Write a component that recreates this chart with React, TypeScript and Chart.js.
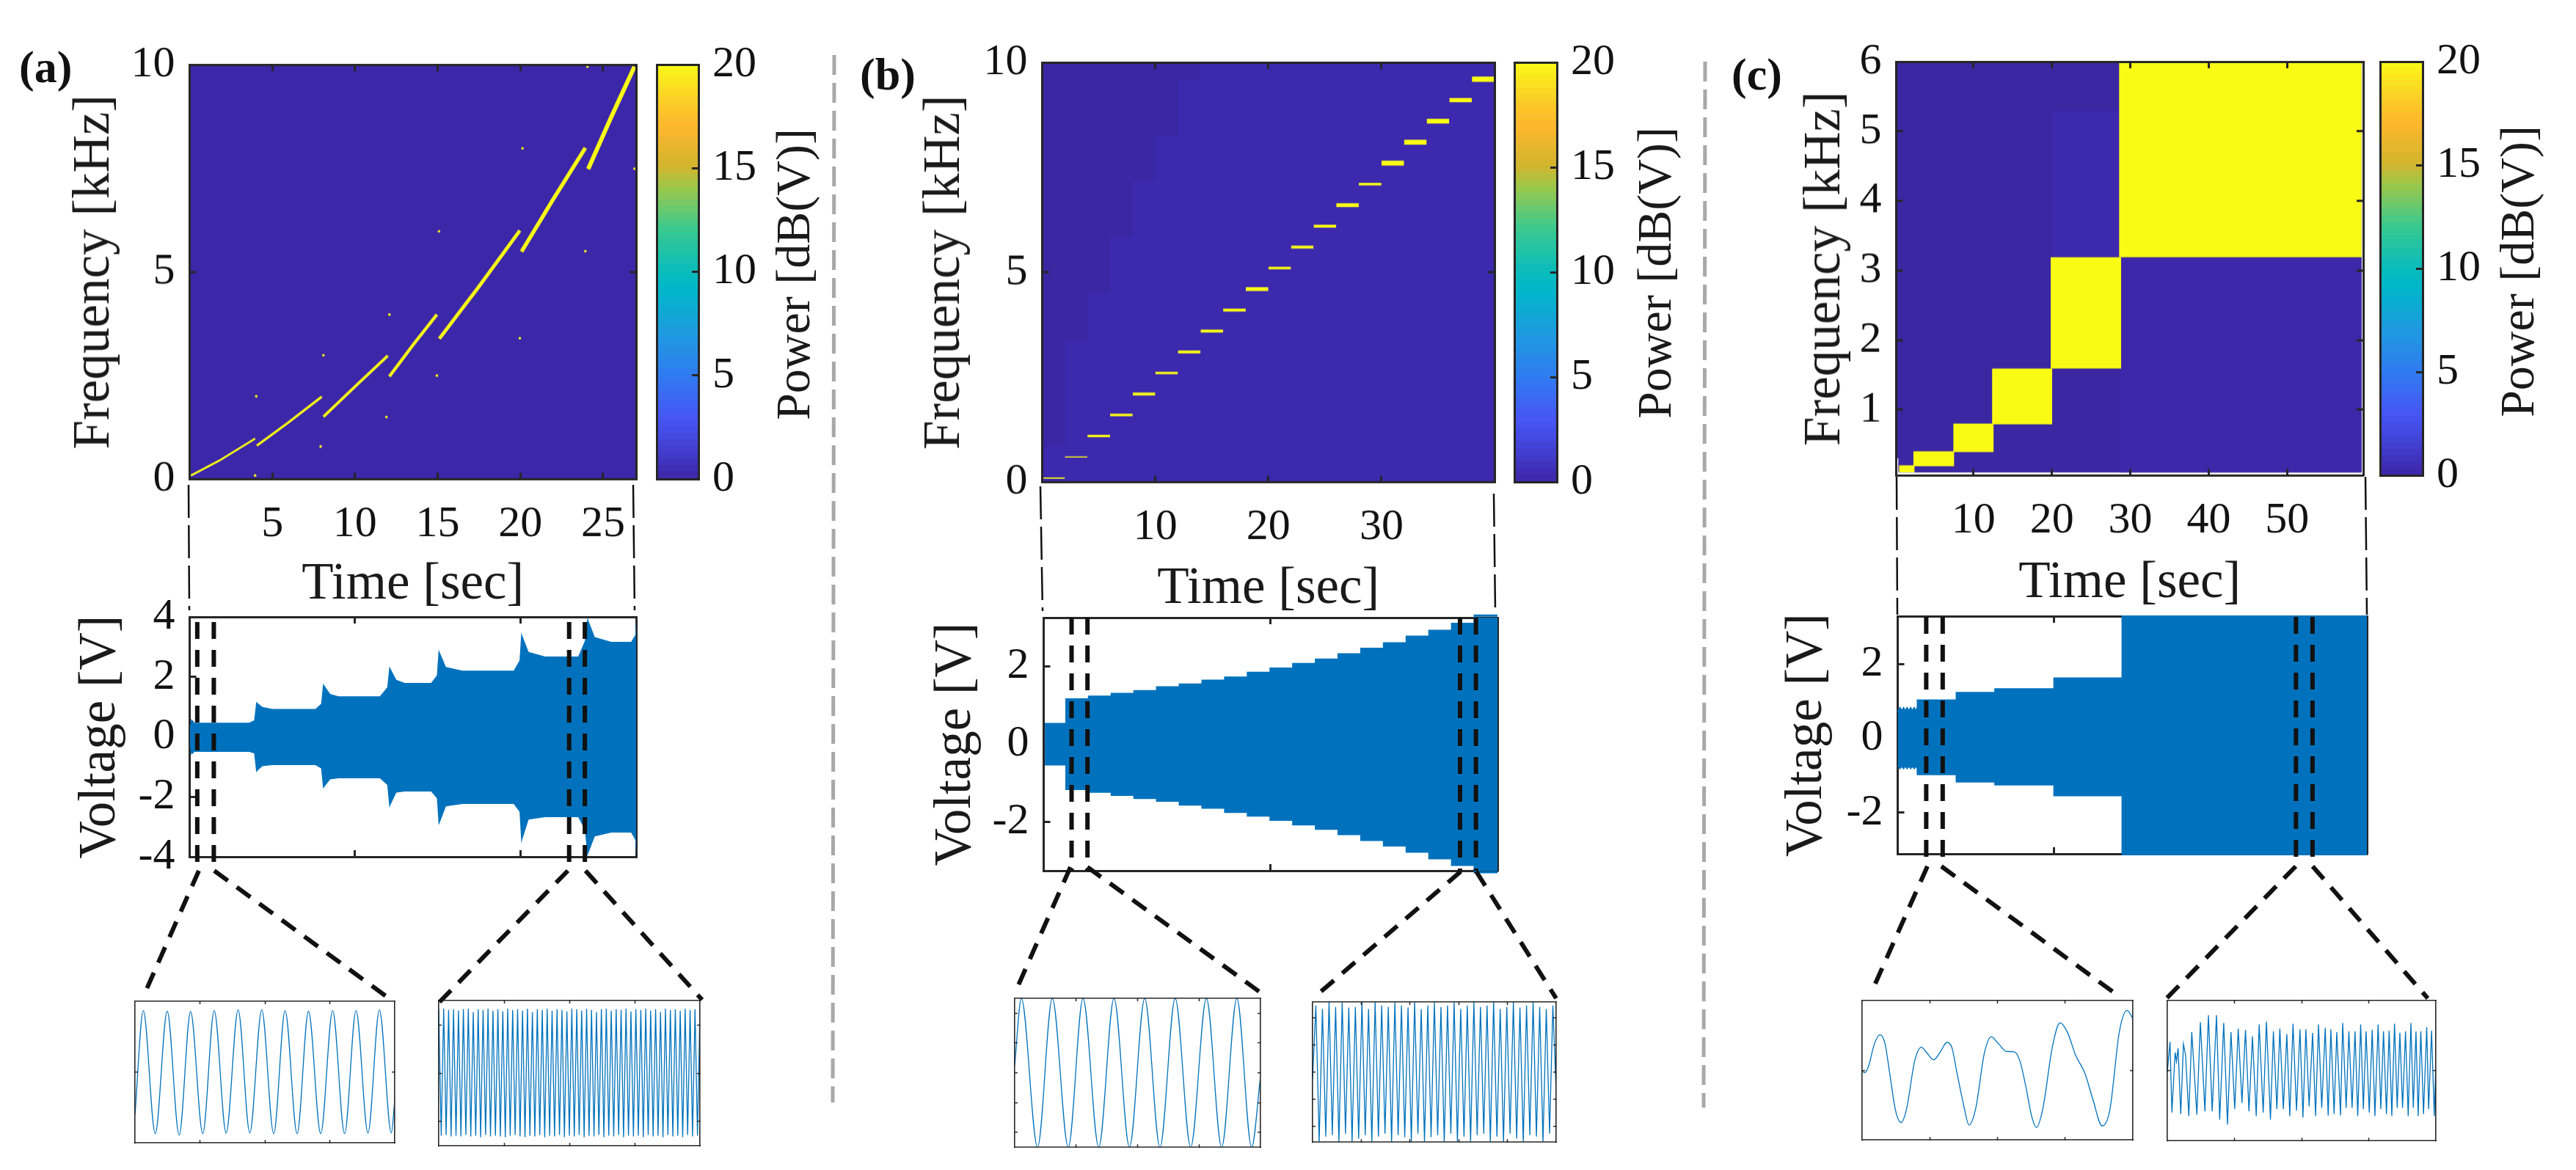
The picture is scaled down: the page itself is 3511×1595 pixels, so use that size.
import React, { useEffect, useRef } from "react";
import { Chart, registerables } from "chart.js";

Chart.register(...registerables);

// ---------- data ----------
// (a) spectrogram: chirp segments, time [s] and frequency [kHz]
const A_SEG_T = [[0.07, 1.8, 3.96], [4.06, 5.94, 7.99], [8.09, 10.07, 11.98], [12.08, 13.53, 14.95], [15.1, 17.5, 19.97], [20.07, 21.95, 23.93], [24.1, 25.5, 26.9]];
const A_SEG_F = [[0.09, 0.45, 0.98], [0.81, 1.36, 1.99], [1.51, 2.26, 2.98], [2.48, 3.25, 3.97], [3.39, 4.65, 6.0], [5.49, 6.73, 7.99], [7.48, 8.74, 9.95]];
const A_SPECK_T = [3.96, 7.92, 4.03, 8.09, 12.08, 11.9, 14.95, 15.08, 19.97, 20.13, 23.93, 26.9, 24.06];
const A_SPECK_F = [0.09, 0.79, 2.0, 2.99, 3.97, 1.5, 2.5, 5.98, 3.4, 7.98, 5.5, 7.49, 9.95];
const A_ENV_T = [0, 0.1, 0.3, 3.6, 3.9, 4.03, 4.06, 4.4, 5, 7.6, 7.95, 8.07, 8.1, 8.5, 9, 11.5, 11.95, 12.08, 12.12, 12.5, 13, 14.6, 14.95, 15.06, 15.1, 15.5, 16.5, 19.6, 19.95, 20.06, 20.1, 20.5, 21.5, 23.5, 23.9, 24.06, 24.1, 24.5, 25.5, 26.7, 26.95, 27];
const A_ENV_UP = [0.3, 0.6, 0.47, 0.47, 0.55, 1.18, 1.15, 1.0, 0.93, 0.93, 1.1, 1.78, 1.75, 1.43, 1.35, 1.35, 1.65, 2.36, 2.3, 1.9, 1.8, 1.8, 2.05, 2.92, 2.85, 2.33, 2.21, 2.21, 2.55, 3.5, 3.4, 2.83, 2.68, 2.68, 3.2, 4, 3.9, 3.33, 3.17, 3.17, 3.4, 3.95];
const A_ENV_LO = [-0.3, -0.6, -0.5, -0.5, -0.55, -1.2, -1.15, -0.98, -0.94, -0.94, -1.05, -1.73, -1.7, -1.42, -1.38, -1.38, -1.6, -2.37, -2.3, -1.86, -1.82, -1.82, -2.05, -2.94, -2.9, -2.32, -2.24, -2.24, -2.5, -3.56, -3.45, -2.76, -2.68, -2.68, -3.1, -4, -3.9, -3.32, -3.19, -3.19, -3.44, -4];
const A_WINDOWS = [0.46, 1.46, 22.95, 23.9];

// (b) spectrogram: stepped tones
const B_EDGES = [0.1, 2, 4, 6, 8, 10, 12, 14, 16, 18, 20, 22, 24, 26, 28, 30, 32, 34, 36, 38, 40];
const B_TONE_F = [0.1, 0.6, 1.1, 1.6, 2.1, 2.6, 3.1, 3.6, 4.1, 4.6, 5.1, 5.6, 6.1, 6.6, 7.1, 7.6, 8.1, 8.6, 9.1, 9.6];
const B_TONE_KHZ_THICK = [0.03, 0.025, 0.06, 0.06, 0.07, 0.055, 0.07, 0.07, 0.07, 0.09, 0.06, 0.07, 0.07, 0.09, 0.06, 0.12, 0.12, 0.11, 0.1, 0.13];
const B_SHADE_T = [2, 4, 6, 8, 10, 12, 14];
const B_SHADE_F = [0.87, 3.36, 4.52, 5.86, 7.2, 8.27, 9.6, 10];
const B_ENV_UP = [0.52, 1.15, 1.22, 1.29, 1.36, 1.46, 1.53, 1.63, 1.71, 1.83, 1.94, 2.06, 2.17, 2.31, 2.45, 2.59, 2.76, 2.91, 3.09, 3.3];
const B_ENV_LO = [-0.52, -1.15, -1.22, -1.3, -1.38, -1.45, -1.55, -1.63, -1.74, -1.83, -1.94, -2.06, -2.17, -2.31, -2.46, -2.6, -2.76, -2.93, -3.1, -3.29];
const B_WINDOWS = [2.46, 3.86, 36.7, 38.1];

// (c) spectrogram: octave blocks
const C_BLOCK_T0 = [0.5, 2.32, 7.42, 12.37, 19.84, 28.56];
const C_BLOCK_T1 = [2.5, 7.55, 12.58, 20.05, 28.84, 59.5];
const C_BLOCK_F0 = [0.1, 0.187, 0.39, 0.79, 1.59, 3.19];
const C_BLOCK_F1 = [0.2, 0.4, 0.8, 1.59, 3.19, 6];
const C_ENV_T = [0.15, 0.45, 0.6, 0.9, 1.05, 1.35, 1.5, 1.8, 1.95, 2.25, 2.4, 2.65, 2.66, 7.6, 7.6, 12.5, 12.5, 20, 20, 28.65, 28.65, 59.7];
const C_ENV_UP = [0.72, 0.82, 0.74, 0.82, 0.74, 0.82, 0.74, 0.82, 0.74, 0.82, 0.74, 0.82, 1.03, 1.03, 1.23, 1.23, 1.33, 1.33, 1.62, 1.62, 3.29, 3.29];
const C_ENV_LO = [-0.72, -0.81, -0.74, -0.81, -0.74, -0.81, -0.74, -0.81, -0.74, -0.81, -0.74, -0.81, -0.97, -0.97, -1.17, -1.17, -1.25, -1.25, -1.54, -1.54, -3.13, -3.13];
const C_WINDOWS = [3.77, 5.86, 50.7, 52.8];

// zoomed waveforms (turning points; window position in %, normalised level)
const A_LEFT_T = [0, 3.2, 7.8, 12.4, 17, 21.4, 26.1, 30.5, 35.1, 39.7, 44.2, 48.8, 53.4, 57.8, 62.4, 66.8, 71.5, 76.1, 80.7, 85.1, 89.7, 94.1, 98.7, 100];
const A_LEFT_V = [-0.6, 0.87, -0.87, 0.86, -0.89, 0.855, -0.87, 0.87, -0.86, 0.88, -0.86, 0.88, -0.87, 0.87, -0.87, 0.86, -0.87, 0.87, -0.87, 0.87, -0.86, 0.88, -0.86, -0.4];
const A_RIGHT_V = [0.88, -0.86, 0.89, -0.85, 0.87, -0.87, 0.88, -0.86, 0.86, -0.87, 0.88, -0.85, 0.89, -0.87, 0.84, -0.86, 0.88, -0.88, 0.87, -0.85, 0.89, -0.87, 0.86, -0.86, 0.88, -0.87, 0.85, -0.88, 0.89, -0.86, 0.87, -0.85, 0.88, -0.87, 0.86, -0.88, 0.89, -0.86, 0.84, -0.87, 0.88, -0.85, 0.87, -0.88, 0.89, -0.86, 0.86, -0.87, 0.88, -0.85, 0.87, -0.88, 0.85, -0.86, 0.89, -0.87, 0.88, -0.85, 0.86, -0.88, 0.89, -0.86, 0.87, -0.87, 0.84, -0.85, 0.88, -0.88, 0.89, -0.86, 0.86, -0.87, 0.88, -0.85, 0.87, -0.88, 0.89, -0.86, 0.85, -0.87, 0.88, -0.86, 0.87, -0.88, 0.89, -0.85, 0.86, -0.87, 0.88, -0.86, 0.84, -0.88, 0.89, -0.85, 0.87, -0.87, 0.88, -0.86, 0.86, -0.88, 0.89, -0.85, 0.87, -0.87, 0.88, -0.86, 0.88];
const B_LEFT_T = [0, 2.7, 9.3, 15.3, 21.8, 27.8, 34.2, 40.4, 46.7, 52.9, 59.1, 65.3, 71.6, 78, 84.2, 90.4, 96.4, 100];
const B_LEFT_V = [0.1, 1, -1, 1, -1, 1, -1, 1, -1, 1, -1, 1, -1, 1, -1, 1, -1, -0.05];
const B_RIGHT_V = [-0.1, 0.95, -1, 0.9, -0.92, 1, -0.9, 0.93, -1, 1, -0.88, 0.92, -1, 0.93, -0.95, 1, -0.9, 0.9, -1, 1, -0.92, 0.95, -0.88, 0.93, -1, 1, -0.9, 0.95, -0.93, 0.92, -1, 1, -0.88, 0.9, -1, 0.95, -0.93, 1, -0.9, 0.93, -1, 0.95, -0.88, 1, -1, 0.9, -0.92, 0.95, -1, 1, -0.9, 0.93, -0.88, 0.95, -1, 1, -0.92, 0.9, -1, 0.93, -0.88, 1, -0.95, 0.92, -1, 0.95, -0.9, 1, -0.92, 0.93, -1, 0.9, -0.88, 0.95, -0.3];
const C_LEFT_T = [0, 1, 2.4, 4.5, 6.6, 8.4, 10.2, 12.3, 14.4, 16.5, 19.4, 21.9, 23.9, 26.4, 29, 31.3, 33.2, 34.9, 37.5, 39.5, 42, 45.1, 47.7, 50.5, 53.3, 56.2, 58.3, 60.4, 62.5, 64.4, 66.8, 70.3, 73.1, 76, 78.8, 82.3, 85.1, 88.7, 91.5, 95, 97.9, 100];
const C_LEFT_V = [-0.01, -0.035, 0.06, 0.375, 0.51, 0.39, -0.045, -0.57, -0.75, -0.54, 0.13, 0.33, 0.25, 0.15, 0.27, 0.4, 0.32, -0.01, -0.5, -0.785, -0.54, 0.235, 0.48, 0.375, 0.27, 0.265, 0.13, -0.22, -0.64, -0.82, -0.54, 0.34, 0.68, 0.53, 0.22, -0.045, -0.4, -0.8, -0.57, 0.55, 0.86, 0.74];
const C_RIGHT_T = [0, 1, 1.7, 2.9, 3.4, 4, 5, 6, 6.8, 8, 9.1, 11, 12.3, 14, 15.3, 16.7, 18.3, 19.5, 21, 22.4, 23.7, 25.1, 26.4, 27.8, 29.1, 30.4, 31.7, 33.1, 34.2, 35.7, 36.9, 38.4, 39.5, 40.8, 41.9, 43.2, 44.5, 45.6, 46.8, 48.1, 49.4, 50.5, 51.6, 52.8, 54.1, 55.2, 56.3, 57.5, 58.8, 59.9, 60.9, 62.1, 63.1, 64.5, 65.3, 66.6, 67.6, 68.8, 69.9, 70.9, 72, 73, 74, 75.2, 76.3, 77.3, 78.5, 79.5, 80.5, 81.6, 82.6, 83.6, 84.6, 85.6, 86.6, 87.6, 88.7, 89.7, 90.7, 91.6, 92.6, 93.4, 94.4, 95.4, 96.6, 97.3, 98.4, 99.4, 100];
const C_RIGHT_V = [-0.02, 0.41, -0.6, 0.26, 0.13, 0.32, -0.62, 0.38, 0.22, -0.65, 0.55, -0.63, 0.69, -0.58, 0.79, -0.58, 0.79, -0.7, 0.68, -0.77, 0.55, -0.55, 0.6, -0.46, 0.58, -0.58, 0.49, -0.65, 0.66, -0.6, 0.7, -0.7, 0.56, -0.55, 0.6, -0.55, 0.52, -0.65, 0.67, -0.57, 0.59, -0.67, 0.59, -0.51, 0.54, -0.65, 0.66, -0.53, 0.61, -0.64, 0.59, -0.62, 0.55, -0.64, 0.68, -0.53, 0.56, -0.53, 0.56, -0.65, 0.66, -0.55, 0.56, -0.6, 0.58, -0.65, 0.66, -0.55, 0.56, -0.62, 0.57, -0.65, 0.67, -0.53, 0.54, -0.53, 0.56, -0.65, 0.68, -0.53, 0.56, -0.65, 0.56, -0.62, 0.62, -0.55, 0.57, -0.65, 0.15];

// tick values and words
const X_TICKS_A = [5, 10, 15, 20, 25];
const X_TICKS_B = [10, 20, 30];
const X_TICKS_C = [10, 20, 30, 40, 50];
const F_TICKS_AB = [0, 5, 10];
const F_TICKS_C = [1, 2, 3, 4, 5, 6];
const V_TICKS_A = [-4, -2, 0, 2, 4];
const V_TICKS_BC = [-2, 0, 2];
const CB_TICKS = [0, 5, 10, 15, 20];
const FREQ_LABEL = "Frequency [kHz]";
const TIME_LABEL = "Time [sec]";
const VOLT_LABEL = "Voltage [V]";
const POWER_LABEL = "Power [dB(V)]";
const PANEL_TAGS = ["(a)", "(b)", "(c)"];

// parula-like colormap anchors (position, colour)
const CMAP_POS = [0, 0.1, 0.15, 0.25, 0.35, 0.45, 0.5, 0.6, 0.7, 0.75, 0.85, 0.92, 1];
const CMAP_HEX = ["#3e26a8", "#4349e0", "#4657f5", "#2f7cf0", "#1e9be0", "#00b5ca", "#0abcbb", "#38c98f", "#9cc84b", "#d2b52e", "#feb72d", "#fbd326", "#f9fb15"];

// ---------- style ----------
const SERIF = '"Liberation Serif"';
const INK = "#262626";
const BLUE = "#0072bd";
const YELLOW = "#f9fb15";
const TICK_SIZE = 60;
const TITLE_SIZE = 71;

type Box = [number, number, number, number]; // left, top, right, bottom in page pixels

function rect(t0: number, t1: number, f0: number, f1: number, color: string) {
  return { data: [{ x: t0, y: f1 }, { x: t1, y: f1 }], fill: { value: f0 }, backgroundColor: color, borderWidth: 0, pointRadius: 0 };
}
const zip = (xs: number[], ys: number[]) => xs.map((x, i) => ({ x, y: ys[i] }));
function envelope(xs: number[], up: number[], lo: number[], edge = 0) {
  return [
    { data: zip(xs, up), fill: "+1", backgroundColor: BLUE, borderColor: BLUE, borderWidth: edge, pointRadius: 0, clip: false },
    { data: zip(xs, lo), fill: false, borderColor: BLUE, borderWidth: edge, pointRadius: 0, clip: false },
  ];
}
function steps(edges: number[], vals: number[]) {
  const xs: number[] = [], ys: number[] = [];
  vals.forEach((v, i) => { xs.push(edges[i], edges[i + 1]); ys.push(v, v); });
  return { xs, ys };
}
function windows(ts: number[], hi: number, lo: number) {
  return ts.map((t) => ({ data: [{ x: t, y: hi }, { x: t, y: lo }], borderColor: "#111", borderWidth: 6, borderDash: [23, 15], pointRadius: 0, clip: false, fill: false }));
}
function wave(xs: number[], ys: number[], smooth: boolean) {
  return [{ data: zip(xs, ys), borderColor: BLUE, borderWidth: 1.3, pointRadius: 0, fill: false, cubicInterpolationMode: smooth ? "monotone" : "default" }];
}
const indices = (vals: number[]) => vals.map((_, i) => i);

function hexRgb(h: string) { return [1, 3, 5].map((i) => parseInt(h.slice(i, i + 2), 16)); }
function cmap(p: number) {
  let i = 0;
  while (i < CMAP_POS.length - 2 && p > CMAP_POS[i + 1]) i++;
  const u = (p - CMAP_POS[i]) / (CMAP_POS[i + 1] - CMAP_POS[i]);
  const a = hexRgb(CMAP_HEX[i]), b = hexRgb(CMAP_HEX[i + 1]);
  return `rgb(${a.map((c, k) => Math.round(c + (b[k] - c) * u)).join(",")})`;
}
const CB_LEVELS = 64;
const colorbarSets = () =>
  Array.from({ length: CB_LEVELS }, (_, i) => rect(0, 1, (i * 20) / CB_LEVELS, Math.min(20, ((i + 1.15) * 20) / CB_LEVELS), cmap((i + 0.5) / CB_LEVELS)));

interface Plot {
  box: Box; xr: number[]; yr: number[]; xt: number[]; yt: number[]; sets: any[];
  xLab?: boolean; yLab?: boolean; xTitle?: string; yTitle?: string;
  yTitleCx?: number; xTitleCy?: number; tick?: number; frame?: number; front?: boolean; colorbar?: boolean;
}

const fixSize = (size: number) => (s: any) => {
  if (s.isHorizontal()) s.height = size; else s.width = size;
  s.paddingLeft = s.paddingRight = s.paddingTop = s.paddingBottom = 0;
};
const setTicks = (vals: number[]) => (s: any) => { s.ticks = vals.map((value) => ({ value })); };

function config(p: Plot) {
  const [l, t, r, b] = p.box;
  const tick = p.tick ?? 9, frame = p.frame ?? 3;
  const L = p.yTitleCx ? l - (p.yTitleCx - TITLE_SIZE / 2) : 8;
  const B = p.xTitleCy ? p.xTitleCy + TITLE_SIZE / 2 - b : 50;
  const T = 45, R = p.colorbar ? 120 : 12;
  const z = p.front ? 1 : -1, bz = p.front ? 1 : 0;
  const grid = { drawOnChartArea: false, tickLength: -tick, tickColor: INK, tickWidth: frame === 3 ? 3 : 1.5, z };
  const border = { color: INK, width: frame, z: bz };
  const off = { display: false, autoSkip: false, maxRotation: 0 };
  const on = (padding: number) => ({ display: true, autoSkip: false, maxRotation: 0, minRotation: 0, padding, color: "#111", font: { family: SERIF, size: TICK_SIZE }, callback: (v: number) => String(v) });
  const title = (text?: string) => ({ display: !!text, text, color: "#1a1a1a", padding: 0, font: { family: SERIF, size: TITLE_SIZE, lineHeight: 1 } });
  const axis = (pos: string, lim: number[], vals: number[], size: number, ticks: any, ttl?: string) => ({
    type: "linear", position: pos, min: lim[0], max: lim[1], afterBuildTicks: setTicks(vals), afterFit: fixSize(size), ticks, grid, border, title: title(ttl),
  });
  const scales: any = {
    x: axis("bottom", p.xr, p.xt, B, p.xLab ? on(tick + 26) : off, p.xTitle),
    x2: axis("top", p.xr, p.xt, T, off),
    y: p.colorbar
      ? axis("right", p.yr, p.yt, R, on(tick + 19))
      : axis("left", p.yr, p.yt, L, p.yLab ? on(tick + 20) : off, p.yTitle),
    y2: p.colorbar ? axis("left", p.yr, [], L, off) : axis("right", p.yr, p.yt, R, off),
  };
  const canvas = { left: l - L, top: t - T, width: r - l + L + R, height: b - t + T + B };
  return {
    canvas,
    chart: {
      type: "line",
      data: { datasets: p.sets.map((d) => ({ tension: 0, xAxisID: "x", yAxisID: "y", ...d })) },
      options: {
        animation: false, responsive: false, maintainAspectRatio: false, devicePixelRatio: 1, events: [],
        layout: { padding: 0 }, scales,
        plugins: { legend: { display: false }, tooltip: { enabled: false }, title: { display: false } },
      },
    },
  };
}

// ---------- page layout ----------
const SPEC_A: Box = [258, 88, 867, 653], CB_A: Box = [895, 88, 952, 653], VOLT_A: Box = [258, 841, 867, 1168];
const SPEC_B: Box = [1420, 85, 2037, 657], CB_B: Box = [2064, 85, 2122, 657], VOLT_B: Box = [1422, 842, 2041, 1187];
const SPEC_C: Box = [2584, 84, 3221, 648], CB_C: Box = [3244, 84, 3302, 648], VOLT_C: Box = [2586, 840, 3226, 1164];

const NAVY_A = "#3c27a8", NAVY_B = "#3d29ad", DARK = "#3a27a1", NAVY_C2 = "#3c28a8", NAVY_C3 = "#3d29ad";

const plots: Plot[] = [
  {
    box: SPEC_A, xr: [0, 27], yr: [0, 10], xt: X_TICKS_A, yt: F_TICKS_AB, xLab: true, yLab: true, xTitle: TIME_LABEL, yTitle: FREQ_LABEL, yTitleCx: 129, xTitleCy: 797, front: true,
    sets: [
      { data: zip(A_SPECK_T, A_SPECK_F), showLine: false, pointRadius: 1.8, pointBorderWidth: 0, pointBackgroundColor: YELLOW },
      ...A_SEG_T.map((ts, i) => ({ data: zip(ts, A_SEG_F[i]), borderColor: YELLOW, borderWidth: 2.8 + 0.5 * i, pointRadius: 0, fill: false })),
      rect(0, 27, 0, 10, NAVY_A),
    ],
  },
  { box: CB_A, xr: [0, 1], yr: [0, 20], xt: [], yt: CB_TICKS, colorbar: true, front: true, sets: colorbarSets() },
  {
    box: VOLT_A, xr: [0, 27], yr: [-4, 4], xt: [10, 20], yt: V_TICKS_A, yLab: true, yTitle: VOLT_LABEL, yTitleCx: 137,
    sets: [...windows(A_WINDOWS, 3.83, -4.17), ...envelope(A_ENV_T, A_ENV_UP, A_ENV_LO)],
  },
  {
    box: SPEC_B, xr: [0, 40], yr: [0, 10], xt: X_TICKS_B, yt: F_TICKS_AB, xLab: true, yLab: true, xTitle: TIME_LABEL, yTitle: FREQ_LABEL, yTitleCx: 1288, xTitleCy: 803, front: true,
    sets: [
      ...B_TONE_F.map((f, i) => rect(B_EDGES[i], B_EDGES[i + 1], f - B_TONE_KHZ_THICK[i] / 2, f + B_TONE_KHZ_THICK[i] / 2, YELLOW)),
      ...B_SHADE_T.map((t, i) => rect(0, t, B_SHADE_F[i], B_SHADE_F[i + 1], DARK)),
      rect(0, 40, 0, 10, NAVY_B),
    ],
  },
  { box: CB_B, xr: [0, 1], yr: [0, 20], xt: [], yt: CB_TICKS, colorbar: true, front: true, sets: colorbarSets() },
  {
    box: VOLT_B, xr: [0, 40], yr: [-3.25, 3.25], xt: [20], yt: V_TICKS_BC, yLab: true, yTitle: VOLT_LABEL, yTitleCx: 1303,
    sets: [...windows(B_WINDOWS, 3.25, -3.25), ...(() => { const u = steps(B_EDGES, B_ENV_UP), d = steps(B_EDGES, B_ENV_LO); return envelope(u.xs, u.ys, d.ys, 3); })()],
  },
  {
    box: SPEC_C, xr: [0.15, 59.7], yr: [0.053, 6], xt: X_TICKS_C, yt: F_TICKS_C, xLab: true, yLab: true, xTitle: TIME_LABEL, yTitle: FREQ_LABEL, yTitleCx: 2488, xTitleCy: 795, front: true,
    sets: [
      ...C_BLOCK_T0.map((t, i) => rect(t, C_BLOCK_T1[i], C_BLOCK_F0[i], C_BLOCK_F1[i], YELLOW)),
      rect(20, 28.6, 3.2, 5.3, NAVY_C3),
      rect(28.6, 59.5, 0.097, 3.19, NAVY_C2),
      rect(0.15, 59.5, 0.3, 6, DARK),
      rect(0.4, 59.5, 0.097, 0.31, DARK),
    ],
  },
  { box: CB_C, xr: [0, 1], yr: [0, 20], xt: [], yt: CB_TICKS, colorbar: true, front: true, sets: colorbarSets() },
  {
    box: VOLT_C, xr: [0.15, 59.7], yr: [-3.11, 3.29], xt: [20, 40], yt: V_TICKS_BC, yLab: true, yTitle: VOLT_LABEL, yTitleCx: 2463,
    sets: [...windows(C_WINDOWS, 3.27, -3.4), ...envelope(C_ENV_T, C_ENV_UP, C_ENV_LO, 2)],
  },
  // zoomed waveforms
  { box: [184, 1365, 538, 1558], xr: [0, 100], yr: [-1, 1], xt: [25, 50, 75], yt: [0], tick: 4, frame: 1.6, front: true, sets: wave(A_LEFT_T, A_LEFT_V, true) },
  { box: [598, 1364, 954, 1562], xr: [0, A_RIGHT_V.length - 1], yr: [-1, 1], xt: [26.5, 53, 79.5], yt: [-0.66, 0, 0.66], tick: 4, frame: 1.6, front: true, sets: wave(indices(A_RIGHT_V), A_RIGHT_V, false) },
  { box: [1383, 1361, 1718, 1564], xr: [0, 100], yr: [-1, 1], xt: [25, 50, 75], yt: [-0.8, -0.4, 0, 0.4, 0.8], tick: 4, frame: 1.6, front: true, sets: wave(B_LEFT_T, B_LEFT_V, true) },
  { box: [1789, 1366, 2121, 1557], xr: [0, B_RIGHT_V.length - 1], yr: [-1, 1], xt: [14.8, 29.6, 44.4, 59.2], yt: [-0.78, -0.39, 0, 0.39, 0.78], tick: 4, frame: 1.6, front: true, sets: wave(indices(B_RIGHT_V), B_RIGHT_V, false) },
  { box: [2538, 1364, 2907, 1554], xr: [0, 100], yr: [-1, 1], xt: [25, 50, 75], yt: [0], tick: 4, frame: 1.6, front: true, sets: wave(C_LEFT_T, C_LEFT_V, true) },
  { box: [2954, 1364, 3320, 1555], xr: [0, 100], yr: [-1, 1], xt: [25, 50, 75], yt: [0], tick: 4, frame: 1.6, front: true, sets: wave(C_RIGHT_T, C_RIGHT_V, false) },
];

// annotation strokes in page pixels: [x0, y0, x1, y1]
const SEPARATORS = [[1137, 75, 1135, 1503], [2324, 84, 2322, 1510]];
const THIN_GUIDES = [[257, 661, 258, 832], [863, 661, 865, 832], [1418, 663, 1421, 833], [2036, 673, 2038, 832], [2585, 650, 2586, 838], [3224, 650, 3226, 838]];
const BOLD_GUIDES = [
  [271, 1187, 200, 1348], [292, 1187, 526, 1358], [774, 1187, 599, 1366], [798, 1187, 957, 1363],
  [1459, 1182, 1388, 1343], [1482, 1182, 1718, 1353], [1991, 1188, 1799, 1353], [2012, 1188, 2121, 1361],
  [2627, 1181, 2555, 1343], [2646, 1181, 2881, 1353], [3129, 1181, 2953, 1361], [3152, 1181, 3309, 1361],
];
const TAG_POS = [[26, 112], [1172, 122], [2360, 122]];
const POWER_POS = [[1086, 374], [2260, 372], [3436, 370]];

function overlayConfig() {
  const seg = (g: number[], color: string, width: number, dash: number[]) => ({
    data: [{ x: g[0], y: g[1] }, { x: g[2], y: g[3] }], borderColor: color, borderWidth: width, borderDash: dash, pointRadius: 0, fill: false, clip: false,
  });
  return {
    type: "line",
    data: {
      datasets: [
        ...SEPARATORS.map((g) => seg(g, "#a8a8a8", 5, [27, 11])),
        ...THIN_GUIDES.map((g) => seg(g, "#111", 2.5, [45, 10])),
        ...BOLD_GUIDES.map((g) => seg(g, "#111", 6, [23, 15])),
      ],
    },
    options: {
      animation: false, responsive: false, maintainAspectRatio: false, devicePixelRatio: 1, events: [], layout: { padding: 0 },
      scales: { x: { type: "linear", display: false, min: 0, max: 3511 }, y: { type: "linear", display: false, min: 0, max: 1595, reverse: true } },
      plugins: { legend: { display: false }, tooltip: { enabled: false } },
    },
    plugins: [{
      id: "pageText",
      afterDraw(chart: any) {
        const c = chart.ctx;
        c.save();
        c.fillStyle = "#111";
        c.font = `bold 62px ${SERIF}`;
        c.textAlign = "left"; c.textBaseline = "alphabetic";
        PANEL_TAGS.forEach((s, i) => c.fillText(s, TAG_POS[i][0], TAG_POS[i][1]));
        c.fillStyle = "#1a1a1a";
        c.font = `66px ${SERIF}`;
        c.textAlign = "center"; c.textBaseline = "middle";
        POWER_POS.forEach(([x, y]) => { c.save(); c.translate(x, y); c.rotate(-Math.PI / 2); c.fillText(POWER_LABEL, 0, 0); c.restore(); });
        c.restore();
      },
    }],
  };
}

function PlotCanvas({ plot }: { plot: Plot }) {
  const ref = useRef<HTMLCanvasElement>(null);
  const { canvas, chart } = config(plot);
  useEffect(() => {
    const ch = new Chart(ref.current as any, chart as any);
    return () => ch.destroy();
  }, []);
  return <canvas ref={ref} width={canvas.width} height={canvas.height} style={{ position: "absolute", left: canvas.left, top: canvas.top, width: canvas.width, height: canvas.height }} />;
}

function Overlay() {
  const ref = useRef<HTMLCanvasElement>(null);
  useEffect(() => {
    const ch = new Chart(ref.current as any, overlayConfig() as any);
    return () => ch.destroy();
  }, []);
  return <canvas ref={ref} width={3511} height={1595} style={{ position: "absolute", left: 0, top: 0, width: 3511, height: 1595 }} />;
}

export default function App() {
  useEffect(() => { document.body.style.margin = "0"; }, []);
  return (
    <div style={{ position: "absolute", left: 0, top: 0, width: 3511, height: 1595, background: "#fff", overflow: "hidden" }}>
      {plots.map((p, i) => <PlotCanvas key={i} plot={p} />)}
      <Overlay />
    </div>
  );
}
